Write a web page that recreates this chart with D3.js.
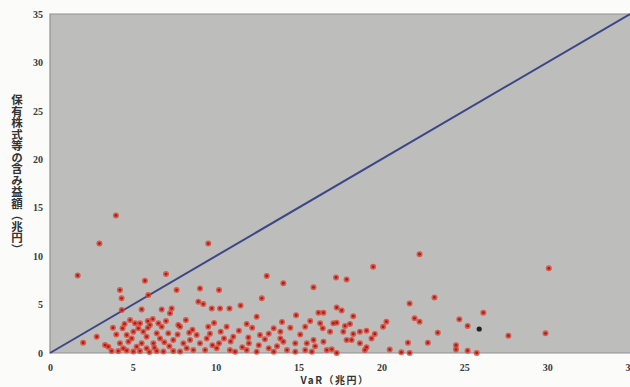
<!DOCTYPE html>
<html>
<head>
<meta charset="utf-8">
<script src="https://cdn.jsdelivr.net/npm/d3@7"></script>
<style>
  html, body { margin: 0; padding: 0; background: #fbfbfa; }
  svg { display: block; }
</style>
</head>
<body>
<svg id="chart"></svg>
<script>
// VaR (x, 兆円) vs 含み益 (y, 兆円)
const varValues = [
  1.67, 2.98, 3.98, 9.55, 7.0, 5.73, 4.22, 4.32, 5.93, 7.64, 9.05, 10.2, 13.08, 14.08, 15.9, 17.26, 17.9, 12.78,
  8.95, 9.25, 11.5, 9.76, 10.26, 10.83, 4.33, 5.53, 6.74, 7.34, 7.24, 12.47, 14.85, 16.2, 16.5, 17.3, 17.6, 18.3,
  19.5, 22.3, 30.1, 23.2, 21.7, 26.15, 22.0, 22.3, 24.7, 25.2, 27.66, 29.9, 20.3, 20.1, 23.4, 21.6, 22.8, 20.5,
  21.2, 21.7, 24.5, 24.5, 25.2, 25.75, 19.0,
  11.87, 10.66, 13.5, 13.9, 15.4, 16.3, 16.46, 17.1, 7.85, 17.3, 18.1, 16.9, 17.7, 17.9, 18.3, 18.7, 19.1, 19.4,
  19.6, 18.2, 17.0, 17.3, 19.1,
  8.85, 9.55, 9.65, 9.46, 11.06, 11.97, 12.67, 12.97, 13.9, 14.08, 14.8, 15.5, 15.9, 16.5, 8.45, 9.05, 8.05,
  8.25, 8.65, 9.36, 10.06, 10.86, 11.17, 11.87, 12.47, 13.5, 14.3, 14.8, 15.4, 15.8, 16.7,
  2.0, 2.82, 3.32, 3.52, 4.22, 4.42, 4.38, 4.83, 5.13, 5.43, 5.33, 5.03, 4.63, 4.93, 5.63, 5.83, 6.03, 6.54,
  6.74, 6.44, 6.64, 6.24, 7.14, 7.74, 7.44, 5.53, 5.23, 5.83, 4.73,
  3.72, 4.12, 4.63, 5.03, 5.43, 6.44, 6.84, 7.44, 7.85, 6.0,
  5.9, 6.2, 7.0, 8.2, 8.6, 9.9, 10.3, 10.9, 11.4, 12.2, 12.6, 13.2, 13.7, 14.5, 15.1, 15.7, 7.2, 7.7, 8.4, 9.8,
  10.5, 6.9, 5.9, 4.5, 4.0, 3.8, 6.3, 12.0, 10.2, 14.0, 17.8, 18.7, 16.0, 13.2, 11.6
];
const gainValues = [
  8.0, 11.3, 14.2, 11.3, 8.15, 7.46, 6.5, 5.64, 5.98, 6.5, 6.67, 6.5, 7.95, 7.2, 6.78, 7.8, 7.6, 5.64,
  5.3, 5.05, 4.9, 4.6, 4.6, 4.6, 4.44, 4.5, 4.5, 4.6, 4.1, 3.75, 3.9, 4.16, 4.16, 4.7, 4.4, 3.8,
  8.9, 10.2, 8.74, 5.74, 5.1, 4.16, 3.58, 3.23, 3.48, 2.8, 1.79, 2.03, 3.23, 2.7, 2.1, 1.06, 1.06, 0.35,
  0.07, 0.0, 0.8, 0.35, 0.24, 0.0, 0.3,
  3.0, 2.7, 2.55, 2.2, 2.7, 3.06, 2.55, 3.06, 2.7, 3.13, 3.0, 2.2, 2.2, 1.34, 1.96, 2.2, 2.3, 1.5,
  1.96, 1.34, 0.38, 0.0, 0.6,
  1.86, 2.7, 2.0, 1.5, 1.68, 1.6, 1.86, 1.41, 1.5, 1.17, 1.0, 1.0, 1.34, 1.17, 1.34, 1.0, 1.0,
  0.5, 0.3, 0.3, 0.5, 0.3, 0.13, 0.3, 0.13, 0.13, 0.3, 0.13, 0.3, 0.13, 0.3,
  1.06, 1.68, 0.82, 0.65, 1.0, 0.48, 2.55, 3.4, 3.06, 3.06, 2.55, 2.2, 1.86, 1.5, 2.2, 1.68, 2.9, 3.06,
  2.7, 2.03, 1.5, 1.0, 2.03, 2.9, 1.34, 1.0, 0.65, 0.48, 1.17,
  0.2, 0.2, 0.25, 0.15, 0.2, 0.2, 0.15, 0.2, 0.15, 0.1,
  3.3, 3.5, 3.3, 3.4, 2.4, 3.1, 2.2, 1.2, 2.3, 2.6, 0.8, 2.0, 0.7, 2.6, 1.9, 3.3, 0.7, 1.9, 2.1, 0.8,
  1.5, 1.1, 2.6, 3.0, 1.9, 2.6, 0.55, 1.0, 1.0, 3.2, 2.8, 1.0, 0.7, 0.5, 0.6
];
// one bank printed in black
const darkVar = [25.9];
const darkGain = [2.48];

const xTicks = [0, 5, 10, 15, 20, 25, 30, 35];
const yTicks = [0, 5, 10, 15, 20, 25, 30, 35];
const xLabel = "VaR（兆円）";
const yLabel = "保有株式等の含み益額（兆円）";

const W = 630, H = 387;
const svg = d3.select("#chart").attr("width", W).attr("height", H);

const x = d3.scaleLinear().domain([0, 35]).range([50, 630]);
const y = d3.scaleLinear().domain([0, 35]).range([353, 14]);

// grey plot panel
svg.append("rect")
  .attr("x", x(0)).attr("y", y(35))
  .attr("width", x(35) - x(0)).attr("height", y(0) - y(35))
  .attr("fill", "#bdbdbc");

svg.append("path")
  .attr("d", `M${x(35)},${y(35)}H${x(0)}V${y(0)}H${x(35)}`)
  .attr("fill", "none")
  .attr("stroke", "#8f8f8f")
  .attr("stroke-width", 1.2);

// 45° reference line
svg.append("line")
  .attr("x1", x(0)).attr("y1", y(0))
  .attr("x2", x(35)).attr("y2", y(35))
  .attr("stroke", "#3d4788")
  .attr("stroke-width", 2);

const pts = varValues.map((v, i) => ({ v, g: gainValues[i] }));

const dots = svg.append("g");
dots.selectAll("circle.halo")
  .data(pts)
  .join("circle")
  .attr("class", "halo")
  .attr("cx", d => x(d.v))
  .attr("cy", d => y(d.g))
  .attr("r", 3)
  .attr("fill", "#e2412f")
  .attr("opacity", 0.8);
dots.selectAll("circle.core")
  .data(pts)
  .join("circle")
  .attr("class", "core")
  .attr("cx", d => x(d.v))
  .attr("cy", d => y(d.g))
  .attr("r", 1.4)
  .attr("fill", "#a3201c");

svg.append("g")
  .selectAll("circle")
  .data(darkVar.map((v, i) => ({ v, g: darkGain[i] })))
  .join("circle")
  .attr("cx", d => x(d.v))
  .attr("cy", d => y(d.g))
  .attr("r", 2.6)
  .attr("fill", "#222");

const tickFont = g => g
  .attr("font-family", "'Liberation Serif', serif")
  .attr("font-size", 10)
  .attr("font-weight", "bold")
  .attr("color", "#3a3a3a");

svg.append("g")
  .attr("transform", `translate(0,${y(0)})`)
  .call(d3.axisBottom(x).tickValues(xTicks).tickSize(0).tickPadding(11))
  .call(g => g.select(".domain").remove())
  .call(tickFont);

svg.append("g")
  .attr("transform", `translate(${x(0)},0)`)
  .call(d3.axisLeft(y).tickValues(yTicks).tickSize(0).tickPadding(7))
  .call(g => g.select(".domain").remove())
  .call(tickFont);

svg.append("text")
  .attr("x", 335)
  .attr("y", 384)
  .attr("text-anchor", "middle")
  .attr("font-family", "'Noto Sans CJK JP', sans-serif")
  .attr("font-size", 10)
  .attr("font-weight", "bold")
  .attr("fill", "#333")
  .attr("letter-spacing", 1.5)
  .text(xLabel);

svg.append("text")
  .attr("x", 17)
  .attr("y", 94)
  .attr("style", "writing-mode: vertical-rl")
  .attr("font-family", "'Noto Sans CJK JP', sans-serif")
  .attr("font-size", 11.5)
  .attr("font-weight", "bold")
  .attr("fill", "#333")
  .text(yLabel);
</script>
</body>
</html>
